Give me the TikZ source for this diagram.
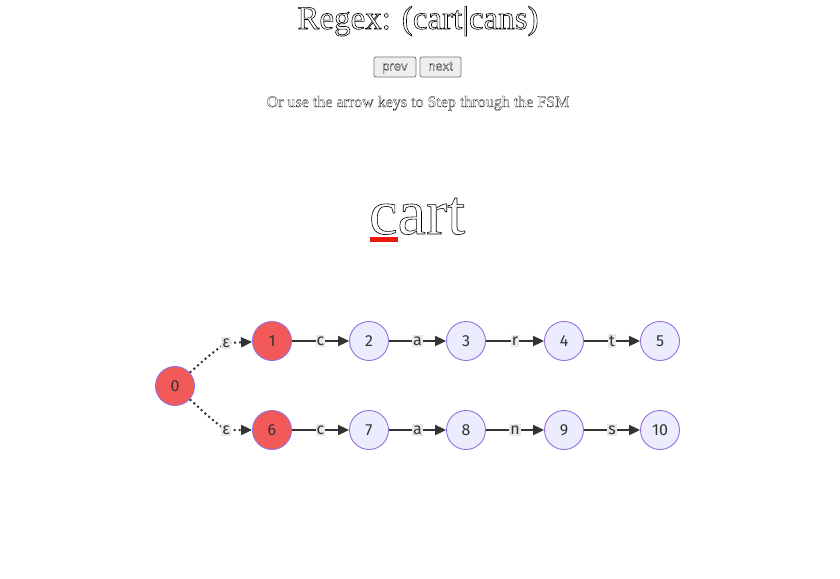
\documentclass[tikz,border=0pt]{standalone}
\usepackage{fontspec}
\setmainfont{Liberation Serif}
\newfontfamily\nodefont{Fira Sans}
\newfontfamily\btnfont{Liberation Sans}
\usetikzlibrary{arrows.meta}
\definecolor{nodered}{HTML}{F25A5A}
\definecolor{nodelight}{HTML}{ECECFF}
\definecolor{nodestroke}{HTML}{9370DB}
\definecolor{edgecol}{HTML}{333333}
\definecolor{lblbg}{HTML}{E8E8E8}
\definecolor{btnfill}{HTML}{EFEFEF}
\definecolor{btnline}{HTML}{767676}
\definecolor{ulred}{HTML}{E8190F}
\newcommand\outltext[2][0.45]{\special{pdf:literal direct 1 Tr #1 w}#2\special{pdf:literal direct 0 Tr}}
\tikzset{
  state/.style={circle, draw=nodestroke, line width=0.9pt, minimum size=39pt, inner sep=0pt,
    font=\nodefont\fontsize{16}{18}\selectfont, text=edgecol},
  active/.style={state, fill=nodered},
  idle/.style={state, fill=nodelight},
  edge/.style={draw=edgecol, line width=2pt, -{Triangle[length=11pt,width=10pt]}},
  epsedge/.style={draw=edgecol, line width=2pt, dash pattern=on 2pt off 3pt, -{Triangle[length=11pt,width=10pt]}},
  lbl/.style={fill=lblbg, inner xsep=1pt, inner ysep=2pt, text=edgecol,
    font=\nodefont\fontsize{16}{18}\selectfont},
  btn/.style={draw=btnline, fill=btnfill, rounded corners=2pt, line width=0.8pt,
    minimum height=20pt, inner xsep=0pt, inner ysep=0pt, text height=9.5pt, text depth=2.5pt,
    font=\btnfont\fontsize{13}{15}\selectfont},
}
\begin{document}
\begin{tikzpicture}[x=1pt,y=-1pt]
\useasboundingbox[fill=white] (0,0) rectangle (840,578);
% header texts
\node[anchor=base, inner sep=0pt, font=\fontsize{33}{36}\selectfont] (title) at (418,29) {\outltext[0.6]{Regex: (cart|cans)}};
\node[btn, minimum width=42pt] (prev) at (395,67) {\outltext[0.2]{prev}};
\node[btn, minimum width=41pt] (next) at (440.5,67) {\outltext[0.2]{next}};
\node[anchor=base, inner sep=0pt, font=\fontsize{16}{18}\selectfont] (hint) at (418,107) {\outltext[0.2]{Or use the arrow keys to Step through the FSM}};
\node[anchor=base west, inner sep=0pt, font=\fontsize{64}{70}\selectfont] (word) at (369,234) {\outltext[0.6]{cart}};
\fill[ulred] (370,237) rectangle (398,242);
% states
\node[active] (s0) at (175,386) {0};
\node[active] (s1) at (272,341) {1};
\node[idle] (s2) at (369,341) {2};
\node[idle] (s3) at (466,341) {3};
\node[idle] (s4) at (564,341) {4};
\node[idle] (s5) at (660,341) {5};
\node[active] (s6) at (272,430) {6};
\node[idle] (s7) at (369,430) {7};
\node[idle] (s8) at (466,430) {8};
\node[idle] (s9) at (564,430) {9};
\node[idle] (s10) at (660,430) {10};
% epsilon edges
\coordinate (e1) at (226,343);
\coordinate (e2) at (226,430);
\draw[epsedge] (s0) to[out=42,in=215] (e1) -- (s1);
\draw[epsedge] (s0) to[out=-42,in=145] (e2) -- (s6);
\node[lbl] (le1) at (e1) {ε};
\node[lbl] (le2) at (e2) {ε};
% character edges
\draw[edge] (s1) -- node[lbl] (l12) {c} (s2);
\draw[edge] (s2) -- node[lbl] (l23) {a} (s3);
\draw[edge] (s3) -- node[lbl] (l34) {r} (s4);
\draw[edge] (s4) -- node[lbl] (l45) {t} (s5);
\draw[edge] (s6) -- node[lbl] (l67) {c} (s7);
\draw[edge] (s7) -- node[lbl] (l78) {a} (s8);
\draw[edge] (s8) -- node[lbl] (l89) {n} (s9);
\draw[edge] (s9) -- node[lbl] (l910) {s} (s10);
\end{tikzpicture}
\end{document}
